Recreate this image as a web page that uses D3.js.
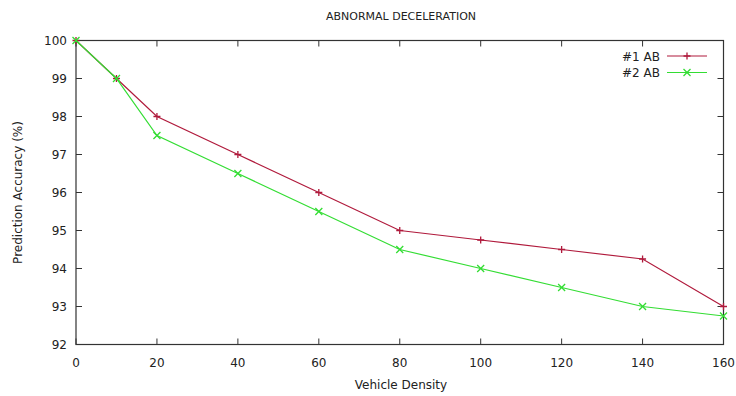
<!DOCTYPE html>
<html>
<head>
<meta charset="utf-8">
<script src="https://cdn.jsdelivr.net/npm/d3@7"></script>
<style>
  body { margin: 0; background: #fff; }
  text { font-family: "DejaVu Sans", Verdana, sans-serif; fill: #222; }
</style>
</head>
<body>
<div id="chart"></div>
<script>
// data
let density = [0, 10, 20, 40, 60, 80, 100, 120, 140, 160];
let ab1 = [100, 99, 98, 97, 96, 95, 94.75, 94.5, 94.25, 93];
let ab2 = [100, 99, 97.5, 96.5, 95.5, 94.5, 94, 93.5, 93, 92.75];
let xTicks = [0, 20, 40, 60, 80, 100, 120, 140, 160];
let yTicks = [92, 93, 94, 95, 96, 97, 98, 99, 100];
let seriesNames = ["#1 AB", "#2 AB"];

let width = 736, height = 396;
let margin = {top: 40.5, right: 12.5, bottom: 51.5, left: 76};
let w = width - margin.left - margin.right,
    h = height - margin.top - margin.bottom;

let colors = ["#b01a3c", "#33dd33"];

let svg = d3.select("#chart").append("svg")
    .attr("width", width)
    .attr("height", height);

let g = svg.append("g")
    .attr("transform", "translate(" + margin.left + "," + margin.top + ")");

let x = d3.scaleLinear().domain([0, 160]).range([0, w]);
let y = d3.scaleLinear().domain([92, 100]).range([h, 0]);

// title
svg.append("text")
    .attr("x", 401).attr("y", 20)
    .attr("text-anchor", "middle")
    .style("font-size", "11px")
    .text("ABNORMAL DECELERATION");

// frame
g.append("rect")
    .attr("width", w).attr("height", h)
    .attr("fill", "none").attr("stroke", "#333").attr("stroke-width", 1.2);

// ticks inside on all four sides
let tickLen = 6;
xTicks.forEach(function(t) {
    g.append("line").attr("x1", x(t)).attr("x2", x(t)).attr("y1", h).attr("y2", h - tickLen).attr("stroke", "#333");
    g.append("line").attr("x1", x(t)).attr("x2", x(t)).attr("y1", 0).attr("y2", tickLen).attr("stroke", "#333");
    g.append("text").attr("x", x(t)).attr("y", h + 22)
        .attr("text-anchor", "middle").style("font-size", "12px").text(t);
});
yTicks.forEach(function(t) {
    g.append("line").attr("x1", 0).attr("x2", tickLen).attr("y1", y(t)).attr("y2", y(t)).attr("stroke", "#333");
    g.append("line").attr("x1", w).attr("x2", w - tickLen).attr("y1", y(t)).attr("y2", y(t)).attr("stroke", "#333");
    g.append("text").attr("x", -9).attr("y", y(t) + 4.5)
        .attr("text-anchor", "end").style("font-size", "12px").text(t);
});

// axis labels
svg.append("text")
    .attr("x", 401).attr("y", 389)
    .attr("text-anchor", "middle")
    .style("font-size", "12px")
    .text("Vehicle Density");

svg.append("text")
    .attr("transform", "translate(22," + (margin.top + h / 2) + ") rotate(-90)")
    .attr("text-anchor", "middle")
    .style("font-size", "12px")
    .text("Prediction Accuracy (%)");

let line = d3.line()
    .x(function(d) { return x(d[0]); })
    .y(function(d) { return y(d[1]); });

let ms = 3.5;
function plus(sel, cx, cy, c) {
    sel.append("path").attr("d", "M" + (cx - ms) + "," + cy + "H" + (cx + ms) + "M" + cx + "," + (cy - ms) + "V" + (cy + ms))
        .attr("stroke", c).attr("stroke-width", 1.3).attr("fill", "none");
}
function cross(sel, cx, cy, c) {
    sel.append("path").attr("d", "M" + (cx - ms) + "," + (cy - ms) + "L" + (cx + ms) + "," + (cy + ms) + "M" + (cx - ms) + "," + (cy + ms) + "L" + (cx + ms) + "," + (cy - ms))
        .attr("stroke", c).attr("stroke-width", 1.3).attr("fill", "none");
}
let markers = [plus, cross];

[ab1, ab2].forEach(function(vals, i) {
    let pts = density.map(function(d, j) { return [d, vals[j]]; });
    g.append("path").datum(pts)
        .attr("d", line)
        .attr("fill", "none")
        .attr("stroke", colors[i])
        .attr("stroke-width", 1.2);
    pts.forEach(function(p) { markers[i](g, x(p[0]), y(p[1]), colors[i]); });
});

// legend
seriesNames.forEach(function(name, i) {
    let ly = 56 + i * 16.5;
    svg.append("text").attr("x", 660).attr("y", ly + 4.5)
        .attr("text-anchor", "end").style("font-size", "12px").text(name);
    svg.append("line").attr("x1", 667).attr("x2", 707).attr("y1", ly).attr("y2", ly)
        .attr("stroke", colors[i]).attr("stroke-width", 1.2);
    markers[i](svg, 687, ly, colors[i]);
});
</script>
</body>
</html>
